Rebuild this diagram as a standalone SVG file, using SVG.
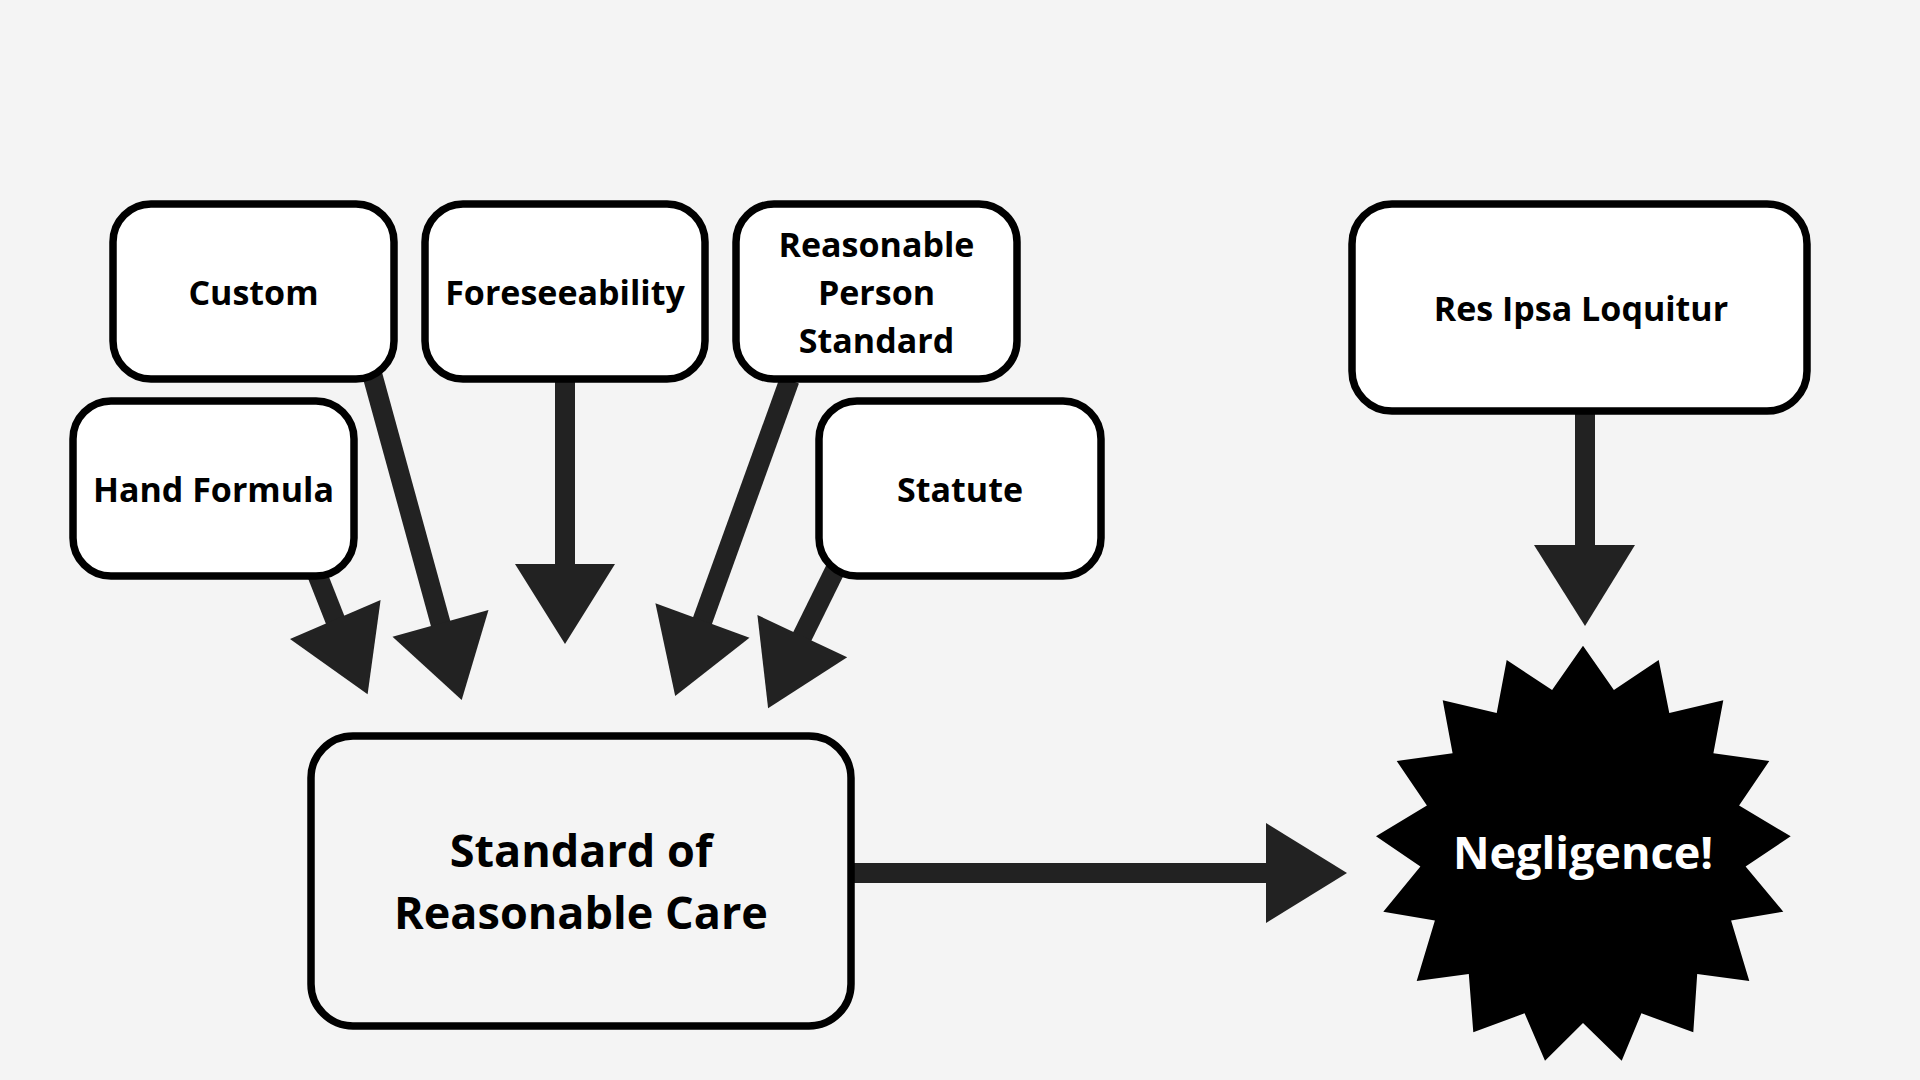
<svg xmlns="http://www.w3.org/2000/svg" width="1920" height="1080" viewBox="0 0 1920 1080">
  <style>
    .box { fill: #ffffff; stroke: #000000; stroke-width: 7.5; }
    .box-open { fill: none; stroke: #000000; stroke-width: 7.5; }
    .lbl { font-family: "Open Sans", "Noto Sans", "Liberation Sans", sans-serif; font-weight: 700; font-size: 34px; fill: #000000; text-anchor: middle; }
    .big { font-size: 45px; }
    .white { fill: #ffffff; }
    .shaft { stroke: #222222; stroke-width: 20; fill: none; stroke-linecap: butt; }
    .head { fill: #222222; }
  </style>
  <rect x="0" y="0" width="1920" height="1080" fill="#f4f4f4"/>

  <g id="connectors">
    <line class="shaft" x1="315.5" y1="570" x2="336" y2="622"/>
    <polygon class="head" points="290,639 380.6,600 367.6,694.3"/>
    <line class="shaft" x1="371" y1="370" x2="441" y2="625"/>
    <polygon class="head" points="392.5,636.7 488.5,610 461.7,700"/>
    <line class="shaft" x1="565" y1="380" x2="565" y2="566"/>
    <polygon class="head" points="515,564 615,564 565,644"/>
    <line class="shaft" x1="789.5" y1="380" x2="702" y2="622"/>
    <polygon class="head" points="655.4,603.3 749.5,637.7 675.2,696"/>
    <line class="shaft" x1="840" y1="560" x2="801.5" y2="638"/>
    <polygon class="head" points="757.4,615 847.2,657.3 768.1,708.3"/>
    <line class="shaft" x1="851" y1="873" x2="1268" y2="873"/>
    <polygon class="head" points="1266,823 1266,923 1347,873"/>
    <line class="shaft" x1="1585" y1="411" x2="1585" y2="547"/>
    <polygon class="head" points="1534,545 1635,545 1585,626"/>
  </g>

  <g id="node-custom">
    <rect class="box" x="113" y="204" width="281" height="175" rx="38"/>
    <text class="lbl" x="253.5" y="305">Custom</text>
  </g>
  <g id="node-hand-formula">
    <rect class="box" x="73" y="401" width="281" height="175" rx="38"/>
    <text class="lbl" x="213.5" y="502">Hand Formula</text>
  </g>
  <g id="node-foreseeability">
    <rect class="box" x="425" y="204" width="280" height="175" rx="38"/>
    <text class="lbl" x="565" y="305">Foreseeability</text>
  </g>
  <g id="node-reasonable-person">
    <rect class="box" x="736" y="204" width="281" height="175" rx="38"/>
    <text class="lbl" x="876.5" y="257">Reasonable</text>
    <text class="lbl" x="876.5" y="305">Person</text>
    <text class="lbl" x="876.5" y="353">Standard</text>
  </g>
  <g id="node-statute">
    <rect class="box" x="819" y="401" width="282" height="175" rx="38"/>
    <text class="lbl" x="960" y="502">Statute</text>
  </g>
  <g id="node-res-ipsa">
    <rect class="box" x="1352" y="204" width="455" height="207" rx="40"/>
    <text class="lbl" x="1581" y="321">Res Ipsa Loquitur</text>
  </g>
  <g id="node-standard">
    <rect class="box-open" x="311" y="736" width="540" height="290" rx="42"/>
    <text class="lbl big" x="581" y="867">Standard of</text>
    <text class="lbl big" x="581" y="929">Reasonable Care</text>
  </g>
  <g id="node-negligence">
    <polygon fill="#000000" points="1583.0,645.7 1613.9,689.9 1658.7,660.0 1669.3,712.9 1723.3,700.3 1713.4,753.3 1769.3,761.0 1739.1,805.4 1790.7,836.3 1745.6,866.4 1783.3,911.7 1731.1,920.6 1749.3,981.0 1697.2,974.0 1693.3,1032.3 1641.4,1013.3 1621.7,1060.7 1583.0,1023.0 1545.0,1060.7 1524.6,1013.3 1473.3,1032.3 1468.8,974.0 1416.7,981.0 1434.9,920.6 1383.3,911.7 1420.4,866.4 1376.0,836.3 1426.9,805.4 1396.7,761.0 1452.6,753.3 1442.7,700.3 1496.7,712.9 1506.7,660.0 1552.1,689.9"/>
    <text class="lbl big white" x="1583" y="869">Negligence!</text>
  </g>
</svg>
